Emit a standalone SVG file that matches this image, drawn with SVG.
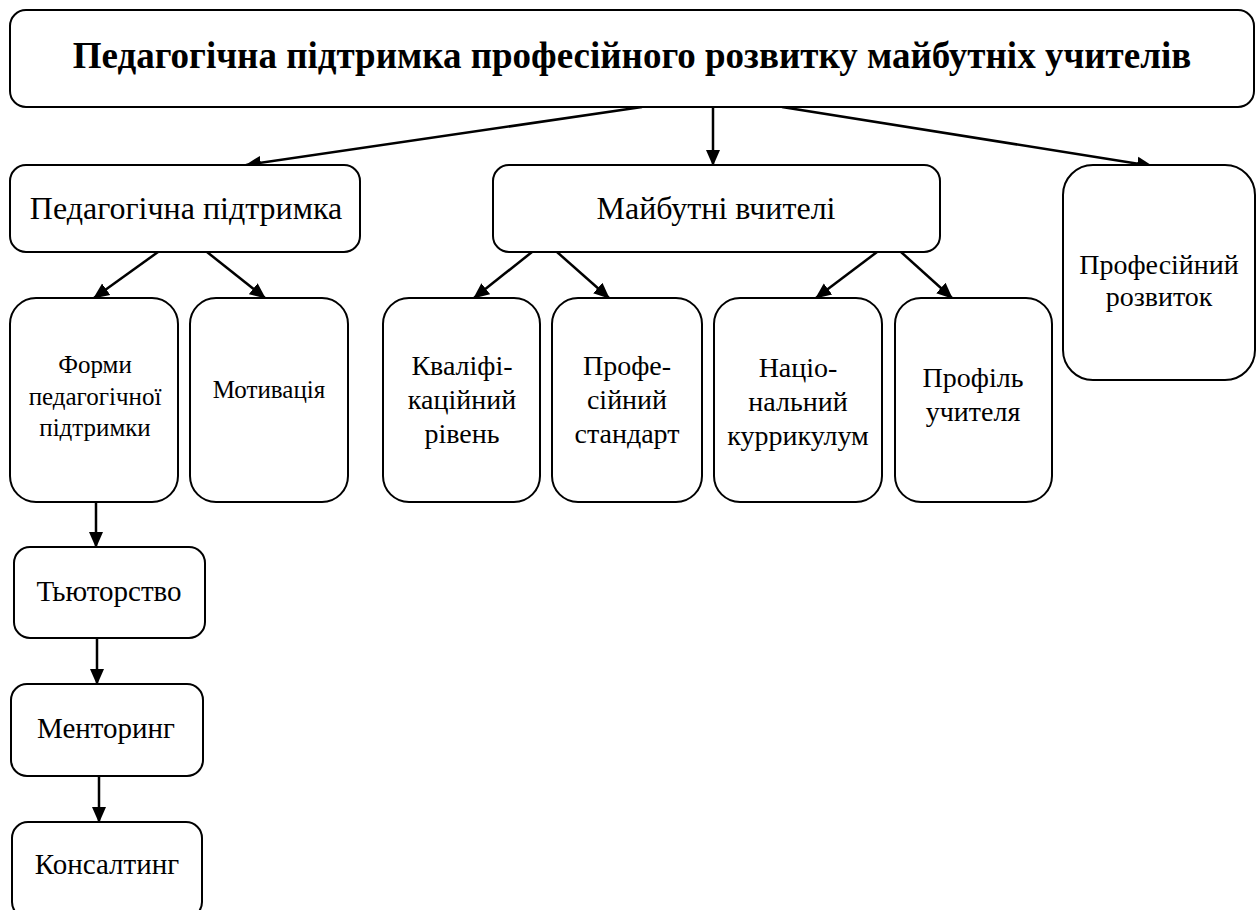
<svg xmlns="http://www.w3.org/2000/svg" width="1259" height="910" viewBox="0 0 1259 910">
<defs>
<style>
.box{fill:#fff;stroke:#000;stroke-width:2}
.t{font-family:"Liberation Serif","Times New Roman","DejaVu Serif",serif;fill:#000;text-anchor:middle}
.c{stroke:#000;stroke-width:2.5;fill:none;marker-end:url(#ah)}
</style>
<marker id="ah" viewBox="0 0 16 16" refX="15" refY="8" markerWidth="16" markerHeight="16" markerUnits="userSpaceOnUse" orient="auto">
<path d="M0,1 L16,8 L0,15 Z" fill="#000"/>
</marker>
</defs>
<rect width="1259" height="910" fill="#fff"/>
<g id="connectors">
<line class="c" x1="642" y1="107" x2="246" y2="165"/>
<line class="c" x1="713" y1="107" x2="713" y2="165"/>
<line class="c" x1="782" y1="107" x2="1152" y2="166"/>
<line class="c" x1="158" y1="252" x2="94" y2="298"/>
<line class="c" x1="207" y1="252" x2="265" y2="298"/>
<line class="c" x1="532" y1="252" x2="474" y2="298"/>
<line class="c" x1="557" y1="252" x2="609" y2="298"/>
<line class="c" x1="877" y1="252" x2="816" y2="298"/>
<line class="c" x1="901" y1="252" x2="952" y2="298"/>
<line class="c" x1="96" y1="502" x2="96" y2="547"/>
<line class="c" x1="97" y1="638" x2="97" y2="684"/>
<line class="c" x1="99" y1="776" x2="99" y2="822"/>
</g>
<g id="root">
<rect class="box" x="10" y="10" width="1244" height="97" rx="16"/>
<text class="t" x="632" y="68" font-size="37" font-weight="bold">Педагогічна підтримка професійного розвитку майбутніх учителів</text>
</g>
<g id="ped">
<rect class="box" x="10" y="165" width="350" height="87" rx="16"/>
<text class="t" x="186" y="219" font-size="32">Педагогічна підтримка</text>
</g>
<g id="teachers">
<rect class="box" x="493" y="165" width="447" height="87" rx="16"/>
<text class="t" x="716" y="219" font-size="32">Майбутні вчителі</text>
</g>
<g id="prof">
<rect class="box" x="1063" y="165" width="192" height="215" rx="30"/>
<text class="t" x="1159" y="274" font-size="28">Професійний</text>
<text class="t" x="1159" y="306" font-size="28">розвиток</text>
</g>
<g id="forms">
<rect class="box" x="10" y="298" width="168" height="204" rx="26"/>
<text class="t" x="95" y="373" font-size="25">Форми</text>
<text class="t" x="95" y="405" font-size="25">педагогічної</text>
<text class="t" x="95" y="436" font-size="25">підтримки</text>
</g>
<g id="motivation">
<rect class="box" x="190" y="298" width="158" height="204" rx="26"/>
<text class="t" x="269" y="398" font-size="25">Мотивація</text>
</g>
<g id="qual">
<rect class="box" x="383" y="298" width="157" height="204" rx="26"/>
<text class="t" x="462" y="375" font-size="28">Кваліфі-</text>
<text class="t" x="462" y="409" font-size="28">каційний</text>
<text class="t" x="462" y="443" font-size="28">рівень</text>
</g>
<g id="standard">
<rect class="box" x="552" y="298" width="150" height="204" rx="26"/>
<text class="t" x="627" y="375" font-size="28">Профе-</text>
<text class="t" x="627" y="409" font-size="28">сійний</text>
<text class="t" x="627" y="443" font-size="28">стандарт</text>
</g>
<g id="curriculum">
<rect class="box" x="714" y="298" width="168" height="204" rx="26"/>
<text class="t" x="798" y="377" font-size="28">Націо-</text>
<text class="t" x="798" y="411" font-size="28">нальний</text>
<text class="t" x="798" y="445" font-size="28">куррикулум</text>
</g>
<g id="profile">
<rect class="box" x="895" y="298" width="157" height="204" rx="26"/>
<text class="t" x="973" y="387" font-size="28">Профіль</text>
<text class="t" x="973" y="421" font-size="28">учителя</text>
</g>
<g id="tutoring">
<rect class="box" x="14" y="547" width="191" height="91" rx="16"/>
<text class="t" x="109" y="601" font-size="29">Тьюторство</text>
</g>
<g id="mentoring">
<rect class="box" x="11" y="684" width="192" height="92" rx="16"/>
<text class="t" x="106" y="738" font-size="29">Менторинг</text>
</g>
<g id="consulting">
<rect class="box" x="12" y="822" width="190" height="96" rx="16"/>
<text class="t" x="107" y="874" font-size="29">Консалтинг</text>
</g>
</svg>
